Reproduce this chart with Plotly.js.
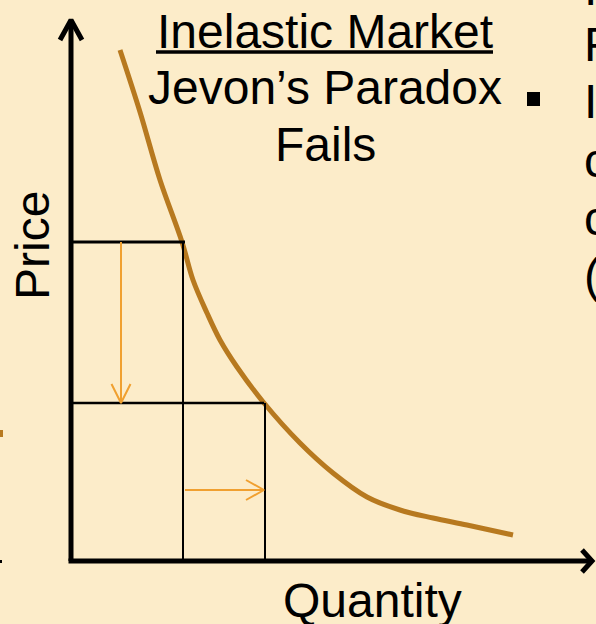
<!DOCTYPE html>
<html>
<head>
<meta charset="utf-8">
<script src="https://cdn.plot.ly/plotly-3.0.1.min.js"></script>
<style>
html,body{margin:0;padding:0;background:#FCECC9;}
#chart{width:596px;height:624px;}
</style>
</head>
<body>
<div id="chart"></div>
<script>
// ---- data (quantity / price units) ----
const demandQuantity = [0.98, 1.38, 1.78, 2.22, 2.44, 2.72, 2.98, 3.32, 3.86, 4.58, 5.24, 5.92, 6.58, 7.24, 7.92, 8.84];
const demandPrice    = [10.22, 8.98, 7.62, 6.38, 5.62, 4.96, 4.42, 3.88, 3.16, 2.36, 1.76, 1.28, 1.02, 0.86, 0.72, 0.52];
const pointQuantity  = [2.24, 3.86];   // before / after
const pointPrice     = [6.38, 3.16];   // before / after
const priceArrowQ    = 1.0;            // quantity where price-drop arrow is drawn
const qtyArrowP      = 1.42;           // price where quantity-rise arrow is drawn
const axisMax        = [10.42, 10.82]; // arrow tips on quantity / price axes

const titleLines = ["Inelastic Market", "Jevon\u2019s Paradox", "Fails"];
const sideLines  = ["I", "F", "I", "c", "c", "("];
const xLabel = "Quantity";
const yLabel = "Price";

// ---- layout helpers ----
const W = 596, H = 624;
const xRange = [-1.42, 10.5];
const yRange = [-1.26, 11.22];
const unitPx = 50;
const px = v => v / W;
const py = v => 1 - v / H;
const FONT = "Liberation Sans, Arial, sans-serif";
const FS = 48;
const ORANGE = "#F0A030";
const CURVE = "#B7791F";

const traces = [];
// demand curve
traces.push({x: demandQuantity, y: demandPrice, mode: "lines",
  line: {color: CURVE, width: 5, shape: "spline", smoothing: 1}, hoverinfo: "skip"});

// guide lines to axes
const [qA, qB] = pointQuantity, [pA, pB] = pointPrice;
traces.push({x: [0, qA + 0.04], y: [pA, pA], mode: "lines", line: {color: "#000", width: 3}, hoverinfo: "skip"});
traces.push({x: [qA, qA], y: [pA, 0], mode: "lines", line: {color: "#000", width: 2}, hoverinfo: "skip"});
traces.push({x: [0, qB], y: [pB, pB], mode: "lines", line: {color: "#000", width: 2.5}, hoverinfo: "skip"});
traces.push({x: [qB + 0.02, qB + 0.02], y: [pB, 0], mode: "lines", line: {color: "#000", width: 2}, hoverinfo: "skip"});

// orange arrows
const u = v => v / unitPx;
traces.push({x: [priceArrowQ, priceArrowQ], y: [pA, pB], mode: "lines", line: {color: ORANGE, width: 2}, hoverinfo: "skip"});
traces.push({x: [priceArrowQ - u(9.5), priceArrowQ, priceArrowQ + u(9.5)], y: [pB + u(19), pB, pB + u(19)],
  mode: "lines", line: {color: ORANGE, width: 2}, hoverinfo: "skip"});
traces.push({x: [qA + 0.04, qB], y: [qtyArrowP, qtyArrowP], mode: "lines", line: {color: ORANGE, width: 2}, hoverinfo: "skip"});
traces.push({x: [qB - u(18), qB, qB - u(18)], y: [qtyArrowP + u(10), qtyArrowP, qtyArrowP - u(10)],
  mode: "lines", line: {color: ORANGE, width: 2}, hoverinfo: "skip"});

// axes with arrowheads
const [xTip, yTip] = axisMax;
traces.push({x: [0, 0], y: [0, yTip], mode: "lines", line: {color: "#000", width: 5}, hoverinfo: "skip"});
traces.push({x: [-u(11), 0, u(11)], y: [yTip - u(20), yTip, yTip - u(20)], mode: "lines",
  line: {color: "#000", width: 5}, hoverinfo: "skip"});
traces.push({x: [-u(2.5), xTip], y: [0, 0], mode: "lines", line: {color: "#000", width: 5}, hoverinfo: "skip"});
traces.push({x: [xTip - u(10), xTip, xTip - u(10)], y: [u(11), 0, -u(11)], mode: "lines",
  line: {color: "#000", width: 5}, hoverinfo: "skip"});

const ann = [];
const titleCenters = [31, 88, 144];
titleLines.forEach((t, i) => ann.push({text: t, xref: "paper", yref: "paper", x: px(325), y: py(titleCenters[i]),
  xanchor: "center", yanchor: "middle", showarrow: false, font: {family: FONT, size: FS, color: "#000"}}));
const sideCenters = [-12, 45, 102, 160, 218, 275];
sideLines.forEach((t, i) => ann.push({text: t, xref: "paper", yref: "paper", x: px(582), y: py(sideCenters[i]),
  xanchor: "left", yanchor: "middle", showarrow: false, font: {family: FONT, size: FS, color: "#000"}}));
ann.push({text: xLabel, xref: "paper", yref: "paper", x: px(372), y: py(600), xanchor: "center", yanchor: "middle",
  showarrow: false, font: {family: FONT, size: FS, color: "#000"}});
ann.push({text: yLabel, xref: "paper", yref: "paper", x: px(33), y: py(246), xanchor: "center", yanchor: "middle",
  textangle: -90, showarrow: false, font: {family: FONT, size: FS, color: "#000"}});

const shapes = [
  {type: "line", xref: "paper", yref: "paper", x0: px(156), x1: px(493), y0: py(52), y1: py(52), line: {color: "#000", width: 3.5}},
  {type: "rect", xref: "paper", yref: "paper", x0: px(527), x1: px(540), y0: py(92), y1: py(106), fillcolor: "#000", line: {width: 0}},
  {type: "rect", xref: "paper", yref: "paper", x0: px(0), x1: px(3), y0: py(430), y1: py(437), fillcolor: CURVE, line: {width: 0}},
  {type: "rect", xref: "paper", yref: "paper", x0: px(0), x1: px(2), y0: py(560), y1: py(563), fillcolor: "#000", line: {width: 0}}
];

const layout = {
  width: W, height: H,
  margin: {l: 0, r: 0, t: 0, b: 0, pad: 0},
  paper_bgcolor: "#FCECC9", plot_bgcolor: "#FCECC9",
  showlegend: false,
  xaxis: {range: xRange, visible: false, fixedrange: true},
  yaxis: {range: yRange, visible: false, fixedrange: true},
  annotations: ann, shapes: shapes
};
Plotly.newPlot("chart", traces, layout, {displayModeBar: false, staticPlot: true});
</script>
</body>
</html>
